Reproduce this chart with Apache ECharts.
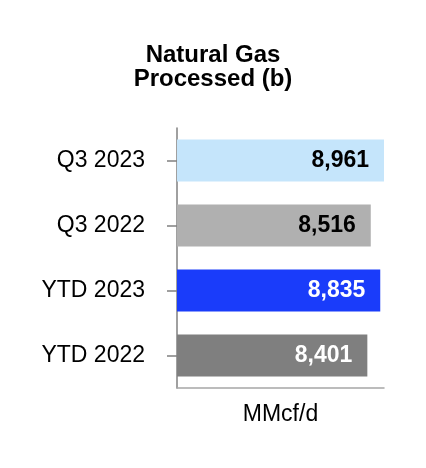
<!DOCTYPE html>
<html>
<head>
<meta charset="utf-8">
<script src="https://cdn.jsdelivr.net/npm/echarts@6/dist/echarts.min.js"></script>
<style>html,body{margin:0;padding:0;background:#fff}#c{width:426px;height:468px}</style>
</head>
<body>
<div id="c"></div>
<script>
var categories = ['Q3 2023', 'Q3 2022', 'YTD 2023', 'YTD 2022'];
var values = [8961, 8516, 8835, 8401];
var titleText = 'Natural Gas\nProcessed (b)';
var unitName = 'MMcf/d';

var barColors = ['#C5E5FB', '#B0B0B0', '#1A3CFA', '#7F7F7F'];
var labelColors = ['#000000', '#000000', '#FFFFFF', '#FFFFFF'];
var FONT = '"Liberation Sans", Arial, Helvetica, sans-serif';

var chart = echarts.init(document.getElementById('c'), null, {renderer: 'canvas'});
chart.setOption({
  animation: false,
  backgroundColor: '#ffffff',
  title: {
    text: titleText,
    left: 'center', top: 38,
    textStyle: {fontFamily: FONT, fontSize: 24, fontWeight: 'bold', color: '#000', lineHeight: 24}
  },
  grid: {left: 177, right: 42, top: 128, bottom: 80, containLabel: false},
  xAxis: {
    type: 'value', min: 2000, max: 8961,
    axisLine: {show: true, lineStyle: {color: '#A6A6A6', width: 1.5}},
    axisTick: {show: false}, axisLabel: {show: false}, splitLine: {show: false},
    name: unitName, nameLocation: 'middle', nameGap: 15,
    nameTextStyle: {fontFamily: FONT, fontSize: 23, color: '#000', verticalAlign: 'top'}
  },
  yAxis: {
    type: 'category', data: categories, inverse: true,
    axisLine: {show: true, lineStyle: {color: '#808080', width: 1.5}},
    axisTick: {show: true, alignWithLabel: true, length: 10, lineStyle: {color: '#808080', width: 1.5}},
    axisLabel: {fontFamily: FONT, fontSize: 23, color: '#000', margin: 32}
  },
  series: [{
    type: 'bar', barWidth: 42,
    data: values.map(function (v, i) {
      return {value: v, itemStyle: {color: barColors[i]},
        label: {color: labelColors[i]}};
    }),
    label: {
      show: true, position: 'insideRight', distance: 15,
      fontFamily: FONT, fontSize: 23, fontWeight: 'bold',
      formatter: function (p) { return p.value.toLocaleString('en-US'); }
    }
  }]
});
</script>
</body>
</html>
